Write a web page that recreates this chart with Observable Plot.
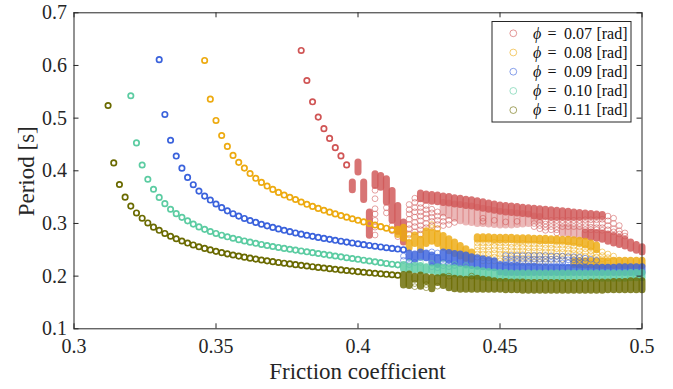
<!DOCTYPE html>
<html><head><meta charset="utf-8">
<script src="https://cdn.jsdelivr.net/npm/d3@7"></script>
<script src="https://cdn.jsdelivr.net/npm/@observablehq/plot@0.6"></script>
<style>body{margin:0;background:#fff;} #chart svg{display:block;}</style>
</head><body><div id="chart"></div>
<script>
// ---------- data ----------
const xTicks = [0.3, 0.35, 0.4, 0.45, 0.5];
const xTickLabels = ["0.3", "0.35", "0.4", "0.45", "0.5"];
const yTicks = [0.1, 0.2, 0.3, 0.4, 0.5, 0.6, 0.7];
const yTickLabels = ["0.1", "0.2", "0.3", "0.4", "0.5", "0.6", "0.7"];
const phiValues = ["0.07", "0.08", "0.09", "0.10", "0.11"];
const xLabel = "Friction coefficient";
const yLabel = "Period [s]";

// regular (periodic) branch: [friction, period]
const reg007 = [[0.380,0.6285],[0.382,0.5715],[0.384,0.531],[0.386,0.502],[0.388,0.480],[0.390,0.4615],[0.392,0.444],[0.394,0.4283],[0.396,0.4112]];
const reg008 = [[0.346,0.6095],[0.348,0.536],[0.350,0.4956],[0.352,0.467],[0.354,0.4463],[0.356,0.4292],[0.358,0.416],[0.360,0.4051],[0.362,0.3948],[0.364,0.3858],[0.366,0.378],[0.368,0.371],[0.370,0.3647],[0.372,0.359],[0.374,0.354],[0.376,0.3497],[0.378,0.3455],[0.380,0.3408],[0.382,0.3364],[0.384,0.3324],[0.386,0.3286],[0.388,0.325],[0.390,0.3215],[0.392,0.3182],[0.394,0.315],[0.396,0.312],[0.398,0.309],[0.400,0.306],[0.402,0.303],[0.404,0.300],[0.406,0.297],[0.408,0.294],[0.410,0.291],[0.412,0.288]];
const reg009 = [[0.330,0.611],[0.332,0.507],[0.334,0.458],[0.336,0.428],[0.338,0.405],[0.340,0.3875],[0.342,0.3736],[0.344,0.3615],[0.346,0.352],[0.348,0.3445],[0.350,0.337],[0.352,0.330],[0.354,0.324],[0.356,0.3185],[0.358,0.314],[0.360,0.3095],[0.362,0.3055],[0.364,0.302],[0.366,0.2985],[0.368,0.2955],[0.370,0.2925],[0.372,0.2897],[0.374,0.287],[0.376,0.2845],[0.378,0.282],[0.380,0.2797],[0.382,0.2775],[0.384,0.2755],[0.386,0.2735],[0.388,0.2716],[0.390,0.2698],[0.392,0.268],[0.394,0.2663],[0.396,0.2646],[0.398,0.263],[0.400,0.2614],[0.402,0.2598],[0.404,0.2583],[0.406,0.2568],[0.408,0.2554],[0.410,0.254],[0.412,0.2527],[0.414,0.2514],[0.416,0.2502]];
const reg010 = [[0.320,0.5425],[0.322,0.453],[0.324,0.411],[0.326,0.384],[0.328,0.365],[0.330,0.3495],[0.332,0.3376],[0.334,0.327],[0.336,0.3186],[0.338,0.3116],[0.340,0.305],[0.342,0.2988],[0.344,0.2935],[0.346,0.2888],[0.348,0.2847],[0.350,0.281],[0.352,0.2777],[0.354,0.2747],[0.356,0.2719],[0.358,0.2693],[0.360,0.2668],[0.362,0.2645],[0.364,0.2623],[0.366,0.2602],[0.368,0.2582],[0.370,0.2563],[0.372,0.2545],[0.374,0.2527],[0.376,0.251],[0.378,0.2494],[0.380,0.2478],[0.382,0.2462],[0.384,0.2446],[0.386,0.243],[0.388,0.2414],[0.390,0.2398],[0.392,0.2382],[0.394,0.2366],[0.396,0.235],[0.398,0.2335],[0.400,0.232],[0.402,0.2303],[0.404,0.2287],[0.406,0.2271],[0.408,0.2256],[0.410,0.2241],[0.412,0.2227],[0.414,0.2214]];
const reg011 = [[0.312,0.524],[0.314,0.415],[0.316,0.374],[0.318,0.350],[0.320,0.333],[0.322,0.320],[0.324,0.310],[0.326,0.301],[0.328,0.293],[0.330,0.287],[0.332,0.281],[0.334,0.2757],[0.336,0.271],[0.338,0.2667],[0.340,0.2628],[0.342,0.2592],[0.344,0.2558],[0.346,0.2527],[0.348,0.2498],[0.350,0.2471],[0.352,0.2446],[0.354,0.2423],[0.356,0.2401],[0.358,0.238],[0.360,0.236],[0.362,0.2341],[0.364,0.2323],[0.366,0.2306],[0.368,0.229],[0.370,0.2275],[0.372,0.226],[0.374,0.2246],[0.376,0.2232],[0.378,0.2218],[0.380,0.2205],[0.382,0.2192],[0.384,0.2179],[0.386,0.2166],[0.388,0.2154],[0.390,0.2142],[0.392,0.213],[0.394,0.2118],[0.396,0.2107],[0.398,0.2096],[0.400,0.2085],[0.402,0.2074],[0.404,0.2064],[0.406,0.2054],[0.408,0.2044],[0.410,0.2035],[0.412,0.2026],[0.414,0.2017]];

// densely packed periods per friction value: [friction, lowest, highest]
const dense007 = [[0.398,0.364,0.3785],[0.400,0.3975,0.4165],[0.402,0.3455,0.3785],[0.404,0.2775,0.322],[0.406,0.372,0.3945],[0.408,0.369,0.391],[0.410,0.3406,0.385],[0.412,0.306,0.3628],[0.414,0.285,0.334],[0.416,0.2647,0.3027],
 [0.422,0.347,0.358],[0.424,0.344,0.356],[0.426,0.342,0.355],[0.428,0.341,0.354],[0.430,0.340,0.352],[0.432,0.339,0.351],[0.434,0.337,0.349],[0.436,0.336,0.348],[0.438,0.334,0.346],[0.440,0.333,0.345],[0.442,0.331,0.343],[0.444,0.329,0.341],[0.446,0.327,0.339],[0.448,0.325,0.337],[0.450,0.323,0.335],[0.452,0.322,0.334],[0.454,0.321,0.333],[0.456,0.320,0.332],[0.458,0.319,0.331],[0.460,0.318,0.330],[0.462,0.314,0.329],[0.464,0.313,0.328],[0.466,0.313,0.327],[0.468,0.312,0.326],[0.470,0.312,0.325],[0.472,0.312,0.324],[0.474,0.312,0.323],[0.476,0.312,0.322],[0.478,0.312,0.321],[0.480,0.313,0.320],[0.482,0.313,0.319],[0.484,0.313,0.318],[0.486,0.313,0.317],
 [0.480,0.276,0.284],[0.482,0.274,0.284],[0.484,0.272,0.283],[0.486,0.270,0.282],[0.488,0.266,0.280],[0.490,0.263,0.277],[0.492,0.260,0.274],[0.494,0.257,0.270],[0.496,0.253,0.265],[0.498,0.249,0.260],[0.500,0.246,0.256]];
// loosely packed (light) period ranges: [friction, lowest, highest]
const haze007 = [[0.430,0.320,0.340],[0.432,0.315,0.339],[0.434,0.310,0.337],[0.436,0.305,0.336],[0.438,0.303,0.334],[0.440,0.302,0.333],[0.442,0.300,0.331],[0.444,0.300,0.329],[0.446,0.299,0.327],[0.448,0.298,0.325],[0.450,0.297,0.323],[0.452,0.297,0.322],[0.454,0.297,0.321],[0.456,0.298,0.320],[0.458,0.299,0.319],[0.460,0.300,0.318],[0.462,0.305,0.314],[0.464,0.306,0.313],
 [0.472,0.282,0.292],[0.474,0.280,0.292],[0.476,0.278,0.290],[0.478,0.276,0.289]];
const dense008 = [[0.414,0.279,0.289],[0.416,0.272,0.293],[0.418,0.254,0.264],[0.420,0.262,0.278],[0.422,0.250,0.270],[0.424,0.262,0.286],[0.426,0.266,0.284],[0.428,0.262,0.281],[0.430,0.255,0.277],[0.432,0.248,0.271],[0.434,0.243,0.265],[0.436,0.238,0.258],[0.438,0.234,0.252],[0.440,0.232,0.246],
 [0.442,0.270,0.275],[0.444,0.270,0.275],[0.446,0.270,0.275],[0.448,0.269,0.274],[0.450,0.269,0.274],[0.452,0.269,0.274],[0.454,0.269,0.274],[0.456,0.268,0.273],[0.458,0.268,0.273],[0.460,0.268,0.273],[0.462,0.268,0.272],[0.464,0.267,0.272],[0.466,0.267,0.272],[0.468,0.267,0.271],[0.470,0.266,0.271],[0.472,0.266,0.270],[0.474,0.265,0.270],[0.476,0.264,0.269],[0.478,0.262,0.268],[0.480,0.259,0.266],[0.482,0.255,0.263],[0.484,0.250,0.259],
 [0.476,0.222,0.229],[0.478,0.221,0.229],[0.480,0.221,0.229],[0.482,0.221,0.229],[0.484,0.220,0.229],[0.486,0.220,0.229],[0.488,0.220,0.229],[0.490,0.220,0.230],[0.492,0.220,0.230],[0.494,0.220,0.230],[0.496,0.220,0.230],[0.498,0.220,0.230],[0.500,0.220,0.230]];
const haze008 = [];
const dense009 = [[0.418,0.236,0.244],[0.420,0.232,0.242],[0.422,0.236,0.246],[0.424,0.235,0.244],[0.426,0.226,0.240],[0.428,0.222,0.236],[0.430,0.234,0.246],[0.432,0.230,0.245],[0.434,0.226,0.243],[0.436,0.224,0.242],[0.438,0.222,0.240],[0.440,0.220,0.237],[0.442,0.219,0.235],[0.444,0.218,0.233],[0.446,0.217,0.231],[0.448,0.216,0.229],
 [0.450,0.208,0.222],[0.452,0.207,0.221],[0.454,0.207,0.220],[0.456,0.207,0.220],[0.458,0.207,0.219],[0.460,0.207,0.219],[0.462,0.207,0.219],[0.464,0.207,0.218],[0.466,0.207,0.218],[0.468,0.207,0.218],[0.470,0.207,0.218],[0.472,0.207,0.218],[0.474,0.207,0.217],[0.476,0.207,0.217],[0.478,0.207,0.217],[0.480,0.207,0.217],[0.482,0.207,0.217],[0.484,0.207,0.217],[0.486,0.207,0.217],[0.488,0.207,0.217],[0.490,0.207,0.217],[0.492,0.207,0.218],[0.494,0.207,0.218],[0.496,0.207,0.218],[0.498,0.207,0.218],[0.500,0.207,0.218]];
const haze009 = [];
const dense010 = [[0.416,0.214,0.222],[0.418,0.212,0.219],[0.420,0.212,0.220],[0.422,0.210,0.220],[0.424,0.210,0.218],[0.426,0.210,0.216],[0.428,0.206,0.218],[0.430,0.206,0.217],[0.432,0.206,0.216],[0.434,0.204,0.216],[0.436,0.203,0.214],[0.438,0.202,0.214],[0.440,0.201,0.213],[0.442,0.200,0.212],[0.444,0.198,0.210],[0.446,0.197,0.209],[0.448,0.197,0.208],
 [0.450,0.196,0.207],[0.452,0.196,0.207],[0.454,0.196,0.206],[0.456,0.196,0.206],[0.458,0.196,0.206],[0.460,0.196,0.206],[0.462,0.196,0.206],[0.464,0.196,0.206],[0.466,0.196,0.206],[0.468,0.196,0.206],[0.470,0.196,0.206],[0.472,0.196,0.206],[0.474,0.196,0.206],[0.476,0.196,0.206],[0.478,0.196,0.206],[0.480,0.196,0.206],[0.482,0.196,0.206],[0.484,0.196,0.206],[0.486,0.196,0.206],[0.488,0.196,0.206],[0.490,0.196,0.206],[0.492,0.196,0.206],[0.494,0.196,0.206],[0.496,0.197,0.207],[0.498,0.197,0.207],[0.500,0.197,0.207]];
const haze010 = [];
const dense011 = [[0.416,0.183,0.203],[0.418,0.182,0.204],[0.420,0.194,0.200],[0.422,0.181,0.202],[0.424,0.190,0.199],[0.426,0.176,0.198],[0.428,0.188,0.197],[0.430,0.182,0.199],[0.432,0.178,0.196],[0.434,0.176,0.196],[0.436,0.175,0.195],[0.438,0.175,0.194],[0.440,0.175,0.195],[0.442,0.175,0.196],[0.444,0.175,0.194],[0.446,0.175,0.193],
 [0.448,0.175,0.191],[0.450,0.175,0.190],[0.452,0.174,0.190],[0.454,0.174,0.189],[0.456,0.174,0.189],[0.458,0.173,0.189],[0.460,0.173,0.188],[0.462,0.173,0.188],[0.464,0.173,0.188],[0.466,0.173,0.188],[0.468,0.173,0.188],[0.470,0.173,0.188],[0.472,0.173,0.188],[0.474,0.173,0.188],[0.476,0.173,0.188],[0.478,0.173,0.188],[0.480,0.173,0.188],[0.482,0.173,0.189],[0.484,0.173,0.189],[0.486,0.173,0.189],[0.488,0.174,0.189],[0.490,0.174,0.190],[0.492,0.174,0.190],[0.494,0.174,0.190],[0.496,0.174,0.191],[0.498,0.174,0.191],[0.500,0.174,0.191]];
const haze011 = [];

// isolated periods: [friction, [periods...]]
const sparse007 = [[0.406,[0.363,0.347,0.328,0.318,0.306,0.293,0.278]],[0.410,[0.330,0.320]],[0.412,[0.296,0.286]],[0.414,[0.275]],
 [0.418,[0.336,0.326,0.318,0.308,0.298,0.290,0.280]],[0.420,[0.348,0.340,0.330,0.322,0.312,0.302,0.294,0.284]],[0.422,[0.338,0.330,0.322,0.314,0.305,0.296,0.288,0.280]],[0.424,[0.334,0.326,0.318,0.310,0.300,0.292]],[0.426,[0.327,0.320,0.312,0.304,0.296]],[0.428,[0.322,0.314,0.306,0.298,0.290]],[0.430,[0.312,0.304,0.296]],[0.432,[0.306,0.298]],[0.434,[0.302]],
 [0.444,[0.310,0.304]],[0.448,[0.306]],[0.452,[0.303]],[0.456,[0.304]],
 [0.462,[0.300,0.294]],[0.464,[0.302,0.296,0.290]],[0.466,[0.305,0.299,0.293,0.287]],[0.468,[0.306,0.300,0.294,0.288]],[0.470,[0.306,0.300,0.294,0.288,0.282]],[0.472,[0.306,0.300,0.294]],[0.474,[0.306,0.300,0.294]],[0.476,[0.306,0.300,0.294]],[0.478,[0.306,0.300,0.294]],[0.480,[0.307,0.300,0.294,0.288]],[0.482,[0.307,0.300,0.293,0.288]],[0.484,[0.307,0.300,0.292,0.288]],[0.486,[0.308,0.300,0.292,0.287]],[0.488,[0.314,0.305,0.296,0.288]],[0.490,[0.310,0.300,0.290,0.284]],[0.492,[0.296,0.286,0.280]],[0.494,[0.282,0.276]]];
const sparse008 = [[0.418,[0.272,0.278]],[0.422,[0.278]],[0.426,[0.292,0.298]],[0.428,[0.290]],
 [0.442,[0.263,0.256,0.249,0.242,0.236]],[0.444,[0.263,0.256,0.249,0.242,0.235,0.229]],[0.446,[0.263,0.256,0.249,0.242,0.235,0.229]],[0.448,[0.264,0.257,0.250,0.243,0.236,0.229]],[0.450,[0.263,0.256,0.249,0.242,0.235,0.229]],[0.452,[0.263,0.256,0.249,0.242,0.235,0.228]],[0.454,[0.262,0.255,0.248,0.241,0.235,0.228]],[0.456,[0.262,0.255,0.248,0.241,0.234,0.228]],[0.458,[0.262,0.255,0.248,0.241,0.234,0.228]],[0.460,[0.261,0.254,0.247,0.240,0.234,0.228]],[0.462,[0.261,0.254,0.247,0.240,0.233,0.227]],[0.464,[0.261,0.254,0.247,0.240,0.233,0.227]],[0.466,[0.260,0.253,0.246,0.239,0.233,0.227]],[0.468,[0.260,0.253,0.246,0.239,0.232]],[0.470,[0.259,0.252,0.245,0.238,0.232]],[0.472,[0.259,0.252,0.245,0.238,0.232]],[0.474,[0.258,0.251,0.244,0.237]],[0.476,[0.257,0.250,0.243,0.236]],[0.478,[0.255,0.248,0.241,0.235]],[0.480,[0.252,0.245,0.238]],[0.482,[0.248,0.241,0.235]],[0.484,[0.243,0.236]],[0.486,[0.246,0.239,0.233]],[0.488,[0.242,0.235]],[0.490,[0.238]]];
const sparse009 = [[0.416,[0.238,0.230]],[0.418,[0.228,0.222]],[0.420,[0.226]],[0.426,[0.246,0.218]],[0.428,[0.244,0.216]],[0.430,[0.226,0.220]],[0.432,[0.224,0.218]],[0.434,[0.220]],
 [0.452,[0.239,0.232,0.226]],[0.454,[0.239,0.232,0.226]],[0.456,[0.239,0.232,0.226]],[0.458,[0.239,0.232,0.226]],[0.460,[0.239,0.232,0.226]],[0.462,[0.239,0.232,0.226]],[0.464,[0.239,0.232,0.226]],[0.466,[0.239,0.232,0.226]],[0.468,[0.238,0.232,0.226]],[0.470,[0.238,0.232,0.226]],[0.472,[0.238,0.231,0.225]],[0.474,[0.237,0.231,0.225]],[0.476,[0.237,0.231,0.225]],[0.478,[0.236,0.230,0.224]],[0.480,[0.234,0.228]],[0.482,[0.232]],[0.484,[0.230]]];
const sparse010 = [[0.418,[0.226]],[0.422,[0.226]],[0.426,[0.224]],[0.430,[0.224]],[0.434,[0.222]],[0.438,[0.220]]];
const sparse011 = [[0.420,[0.186,0.180]],[0.424,[0.184,0.178]],[0.428,[0.181]],[0.432,[0.200]],[0.440,[0.200]]];

// ---------- styles ----------
const seriesColors = ["#d05555", "#edaa10", "#3a62dc", "#5ccca2", "#6a6a00"];
const serif = "Liberation Serif, DejaVu Serif, serif";
const W = 673, H = 389;
const mL = 73.5, mR = 31.5, mT = 12.3, mB = 60.7;
const plotW = W - mL - mR, plotH = H - mT - mB;
const tickLen = 5;

const regular = [reg007, reg008, reg009, reg010, reg011];
const dense = [dense007, dense008, dense009, dense010, dense011];
const haze = [haze007, haze008, haze009, haze010, haze011];
const sparse = [sparse007, sparse008, sparse009, sparse010, sparse011];

const marks = [];
phiValues.forEach((phi, i) => {
  const c = seriesColors[i];
  const sp = sparse[i].flatMap(([x, ys]) => ys.map(y => ({x, y})));
  const hz = haze[i].map(([x, lo, hi]) => ({x, lo, hi}));
  const dn = dense[i].map(([x, lo, hi]) => ({x, lo, hi}));
  const rg = regular[i].map(([x, y]) => ({x, y}));
  marks.push(Plot.link(hz, {x1: "x", x2: "x", y1: "lo", y2: "hi", stroke: c, strokeWidth: 7, strokeLinecap: "round", strokeOpacity: 0.42}));
  marks.push(Plot.dot(sp, {x: "x", y: "y", r: 2.9, stroke: c, strokeWidth: 1, strokeOpacity: 0.55, fill: "none"}));
  marks.push(Plot.link(dn, {x1: "x", x2: "x", y1: "lo", y2: "hi", stroke: c, strokeWidth: 7, strokeLinecap: "round", strokeOpacity: 0.82}));
  marks.push(Plot.dot(rg, {x: "x", y: "y", r: 2.7, stroke: c, strokeWidth: 1.7, fill: "none"}));
});

const axisColor = "#262626";
marks.push(
  Plot.frame({stroke: axisColor, strokeWidth: 1}),
  Plot.ruleX(xTicks, {x: d => d, insetTop: plotH - tickLen, stroke: axisColor}),
  Plot.ruleX(xTicks, {x: d => d, insetBottom: plotH - tickLen, stroke: axisColor}),
  Plot.ruleY(yTicks, {y: d => d, insetRight: plotW - tickLen, stroke: axisColor}),
  Plot.ruleY(yTicks, {y: d => d, insetLeft: plotW - tickLen, stroke: axisColor}),
  Plot.text(xTicks, {x: d => d, text: (d, i) => xTickLabels[i], frameAnchor: "bottom", lineAnchor: "top", dy: 10, fontSize: 20, fontFamily: serif, fill: axisColor}),
  Plot.text(yTicks, {y: d => d, text: (d, i) => yTickLabels[i], frameAnchor: "left", textAnchor: "end", dx: -7, fontSize: 20, fontFamily: serif, fill: axisColor})
);

const chart = Plot.plot({
  width: W, height: H,
  marginLeft: mL, marginRight: mR, marginTop: mT, marginBottom: mB,
  x: {domain: [0.3, 0.5], axis: null},
  y: {domain: [0.1, 0.7], axis: null},
  style: {fontFamily: serif, background: "#fff", overflow: "visible"},
  marks
});
document.getElementById("chart").appendChild(chart);

// axis titles and legend
const svg = d3.select(chart);
svg.append("text").attr("x", mL + plotW / 2).attr("y", 379).attr("text-anchor", "middle")
  .attr("font-family", serif).attr("font-size", 23).attr("fill", axisColor).text(xLabel);
svg.append("text").attr("transform", `translate(34,${mT + plotH / 2 + 1}) rotate(-90)`).attr("text-anchor", "middle")
  .attr("font-family", serif).attr("font-size", 23).attr("fill", axisColor).text(yLabel);

const lg = svg.append("g");
lg.append("rect").attr("x", 492).attr("y", 21.5).attr("width", 139).attr("height", 100.5)
  .attr("fill", "#fff").attr("stroke", axisColor).attr("stroke-width", 1);
const legendParts = [
  {x: 533, anchor: "start", text: () => "ϕ", italic: true},
  {x: 547.5, anchor: "start", text: () => "="},
  {x: 564, anchor: "start", text: phi => phi},
  {x: 627.5, anchor: "end", text: () => "[rad]"}
];
phiValues.forEach((phi, i) => {
  const by = 38.6 + i * 19.2;
  lg.append("circle").attr("cx", 513.3).attr("cy", by - 5.3).attr("r", 3.4)
    .attr("fill", "none").attr("stroke", seriesColors[i]).attr("stroke-opacity", 0.6).attr("stroke-width", 1);
  legendParts.forEach(p => {
    lg.append("text").attr("x", p.x).attr("y", by).attr("text-anchor", p.anchor)
      .attr("font-family", serif).attr("font-size", 16).attr("fill", "#111")
      .attr("font-style", p.italic ? "italic" : "normal")
      .text(p.text(phi));
  });
});
</script>
</body></html>
